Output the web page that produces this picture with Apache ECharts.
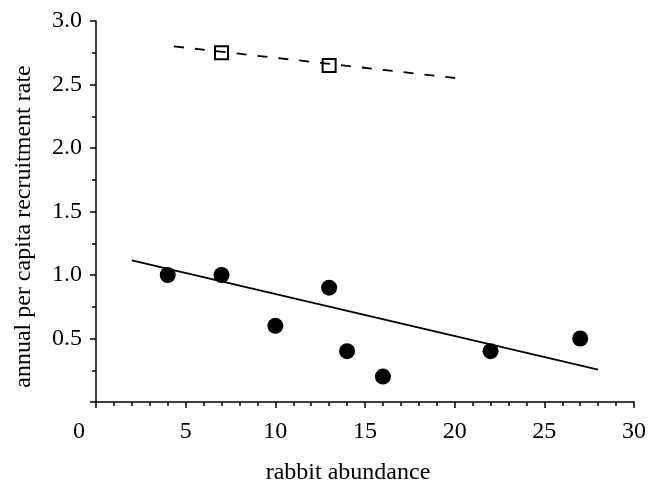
<!DOCTYPE html>
<html>
<head>
<meta charset="utf-8">
<script src="https://cdn.jsdelivr.net/npm/echarts@6/dist/echarts.min.js"></script>
<style>
html,body{margin:0;padding:0;background:#fff;}
#chart{width:649px;height:490px;}
</style>
</head>
<body>
<div id="chart"></div>
<script>
// Data
var circleX = [4, 7, 10, 13, 14, 16, 22, 27];
var circleY = [1.0, 1.0, 0.6, 0.9, 0.4, 0.2, 0.4, 0.5];
var squareX = [7, 13];
var squareY = [2.75, 2.65];
var fitSolidX = [2, 28];
var fitSolidY = [1.115, 0.255];
var fitDashX = [4.35, 20.1];
var fitDashY = [2.80, 2.55];
var xTicks = [0, 5, 10, 15, 20, 25, 30];
var yTicks = [0.5, 1.0, 1.5, 2.0, 2.5, 3.0];

function pairs(xs, ys){ return xs.map(function(x,i){ return [x, ys[i]]; }); }

var FONT = 'Liberation Serif';
var chart = echarts.init(document.getElementById('chart'), null, {renderer:'canvas'});
chart.setOption({
  animation: false,
  backgroundColor: '#fff',
  grid: {left: 96, right: 13, top: 21, bottom: 80, containLabel: false},
  xAxis: {
    type: 'value', min: 0, max: 30, interval: 5,
    name: 'rabbit abundance', nameLocation: 'middle', nameGap: 59,
    nameTextStyle: {fontFamily: FONT, fontSize: 24, color: '#000', padding: [0, 34, 0, 0]},
    axisLine: {show: true, onZero: false, lineStyle: {color: '#000', width: 1.5}},
    axisTick: {show: true, inside: false, length: 6, lineStyle: {color: '#000', width: 1.5}},
    minorTick: {show: true, splitNumber: 5, length: 4, lineStyle: {color: '#000', width: 1.5}},
    splitLine: {show: false},
    axisLabel: {
      fontFamily: FONT, fontSize: 24, color: '#000', margin: 18,
      formatter: function(v){ return v === 0 ? '{z|0}' : String(v); },
      rich: {z: {fontFamily: FONT, fontSize: 24, color: '#000', padding: [0, 34, 0, 0]}}
    }
  },
  yAxis: {
    type: 'value', min: 0, max: 3, interval: 0.5,
    name: 'annual per capita recruitment rate', nameLocation: 'middle', nameGap: 60,
    nameTextStyle: {fontFamily: FONT, fontSize: 24, color: '#000', padding: [0, 30, 0, 0]},
    axisLine: {show: true, onZero: false, lineStyle: {color: '#000', width: 1.5}},
    axisTick: {show: true, inside: false, length: 6, lineStyle: {color: '#000', width: 1.5}},
    minorTick: {show: true, splitNumber: 2, length: 4, lineStyle: {color: '#000', width: 1.5}},
    splitLine: {show: false},
    axisLabel: {
      fontFamily: FONT, fontSize: 24, color: '#000', margin: 14,
      formatter: function(v){ return yTicks.indexOf(v) >= 0 ? v.toFixed(1) : ''; }
    }
  },
  series: [
    {
      type: 'line', data: pairs(fitSolidX, fitSolidY), showSymbol: false, symbol: 'none',
      lineStyle: {color: '#000', width: 1.8}, z: 2
    },
    {
      type: 'line', data: pairs(fitDashX, fitDashY), showSymbol: false, symbol: 'none',
      lineStyle: {color: '#000', width: 1.8, type: [10, 11]}, z: 2
    },
    {
      type: 'scatter', data: pairs(circleX, circleY), symbol: 'circle', symbolSize: 16,
      itemStyle: {color: '#000', opacity: 1}, z: 3
    },
    {
      type: 'scatter', data: pairs(squareX, squareY), symbol: 'rect', symbolSize: 13,
      itemStyle: {color: 'rgba(0,0,0,0)', borderColor: '#000', borderWidth: 2, opacity: 1}, z: 3
    }
  ]
});
</script>
</body>
</html>
